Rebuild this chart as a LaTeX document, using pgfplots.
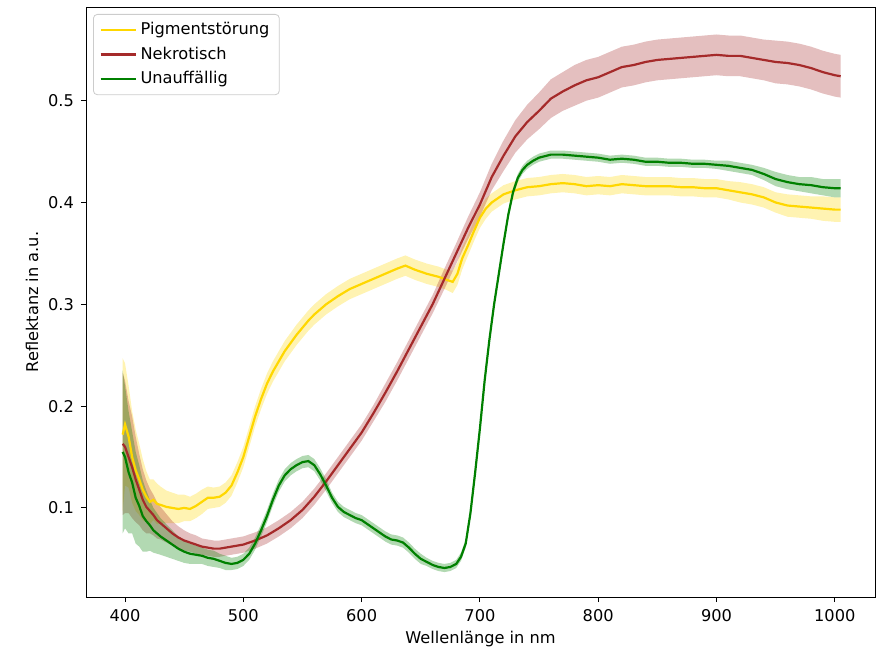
\documentclass[border=0pt]{standalone}
\usepackage{pgfplots}
\pgfplotsset{compat=1.18}
\usepackage{pgfplotstable}
\usepgfplotslibrary{fillbetween}
\usepackage{fontspec}
\setmainfont{DejaVu Sans}
\definecolor{cY}{HTML}{FFD700}
\definecolor{cR}{HTML}{A52A2A}
\definecolor{cG}{HTML}{008000}

\pgfplotstableread{
x m s
398 0.172 0.075
400 0.182 0.06
403 0.170 0.05
406 0.150 0.045
409 0.137 0.04
412 0.128 0.035
415 0.118 0.03
418 0.111 0.025
421 0.106 0.022
424 0.108 0.02
427 0.104 0.02
430 0.103 0.018
435 0.101 0.016
440 0.100 0.015
445 0.099 0.014
450 0.100 0.013
455 0.099 0.012
460 0.102 0.012
465 0.106 0.012
470 0.110 0.011
475 0.110 0.01
480 0.111 0.01
485 0.115 0.01
490 0.122 0.01
495 0.135 0.01
500 0.150 0.01
505 0.170 0.01
510 0.190 0.01
515 0.207 0.01
520 0.222 0.01
525 0.234 0.01
530 0.244 0.01
535 0.254 0.01
540 0.262 0.01
545 0.270 0.01
550 0.277 0.01
555 0.284 0.01
560 0.290 0.01
570 0.300 0.01
580 0.308 0.01
590 0.315 0.01
600 0.320 0.01
610 0.325 0.01
620 0.330 0.01
630 0.335 0.01
637 0.338 0.01
645 0.334 0.01
655 0.330 0.01
665 0.327 0.01
672 0.324 0.01
677 0.322 0.011
681 0.330 0.011
685 0.345 0.011
690 0.358 0.01
695 0.372 0.01
700 0.385 0.01
705 0.394 0.01
710 0.400 0.009
720 0.408 0.009
730 0.412 0.009
740 0.415 0.009
750 0.416 0.009
760 0.418 0.009
770 0.419 0.009
780 0.418 0.009
790 0.416 0.009
800 0.417 0.009
810 0.416 0.009
820 0.418 0.009
830 0.417 0.009
840 0.416 0.009
850 0.416 0.009
860 0.416 0.009
870 0.415 0.009
880 0.415 0.009
890 0.414 0.009
900 0.414 0.009
910 0.412 0.009
920 0.410 0.01
930 0.408 0.01
940 0.405 0.01
950 0.400 0.01
960 0.397 0.011
970 0.396 0.011
980 0.395 0.011
990 0.394 0.012
1000 0.393 0.012
1005 0.393 0.012
}\tY

\pgfplotstableread{
x m s
398 0.163 0.07
400 0.160 0.065
403 0.150 0.055
406 0.140 0.05
409 0.128 0.042
412 0.118 0.035
415 0.108 0.03
418 0.101 0.026
421 0.097 0.022
424 0.093 0.02
427 0.088 0.018
430 0.085 0.016
435 0.080 0.014
440 0.075 0.012
445 0.071 0.011
450 0.068 0.01
455 0.066 0.009
460 0.064 0.009
465 0.062 0.008
470 0.061 0.008
475 0.060 0.008
480 0.060 0.008
485 0.061 0.008
490 0.062 0.008
495 0.063 0.008
500 0.064 0.008
505 0.066 0.008
510 0.068 0.008
520 0.073 0.008
530 0.080 0.008
540 0.088 0.008
550 0.098 0.008
560 0.111 0.008
570 0.126 0.008
580 0.142 0.008
590 0.158 0.008
600 0.174 0.008
610 0.193 0.008
620 0.213 0.009
630 0.234 0.009
640 0.256 0.009
650 0.278 0.009
660 0.300 0.009
670 0.325 0.01
680 0.350 0.01
690 0.375 0.011
700 0.398 0.012
710 0.425 0.013
720 0.446 0.015
730 0.465 0.016
740 0.479 0.017
750 0.490 0.018
760 0.502 0.019
770 0.509 0.019
780 0.515 0.02
790 0.520 0.02
800 0.523 0.02
810 0.528 0.02
820 0.533 0.02
830 0.535 0.02
840 0.538 0.02
850 0.540 0.02
860 0.541 0.02
870 0.542 0.02
880 0.543 0.02
890 0.544 0.02
900 0.545 0.02
910 0.544 0.02
920 0.544 0.02
930 0.542 0.02
940 0.540 0.02
950 0.538 0.021
960 0.537 0.021
970 0.535 0.021
980 0.532 0.021
990 0.528 0.021
1000 0.525 0.021
1005 0.524 0.021
}\tR

\pgfplotstableread{
x m s
398 0.155 0.08
400 0.150 0.07
403 0.135 0.06
406 0.125 0.05
409 0.110 0.045
412 0.102 0.04
415 0.092 0.035
418 0.087 0.03
421 0.083 0.025
424 0.078 0.022
427 0.075 0.02
430 0.072 0.018
435 0.068 0.016
440 0.064 0.014
445 0.060 0.012
450 0.057 0.011
455 0.055 0.01
460 0.054 0.009
465 0.053 0.008
470 0.051 0.008
475 0.050 0.008
480 0.048 0.007
485 0.046 0.007
490 0.045 0.006
495 0.046 0.006
500 0.049 0.006
505 0.055 0.006
510 0.065 0.006
515 0.078 0.006
520 0.092 0.006
525 0.108 0.006
530 0.122 0.006
535 0.132 0.006
540 0.138 0.006
545 0.142 0.006
550 0.145 0.006
555 0.146 0.006
560 0.142 0.006
565 0.133 0.006
570 0.122 0.006
575 0.110 0.005
580 0.101 0.005
585 0.096 0.005
590 0.093 0.005
595 0.090 0.005
600 0.088 0.005
605 0.084 0.005
610 0.080 0.005
615 0.076 0.005
620 0.072 0.005
625 0.069 0.005
630 0.068 0.005
635 0.066 0.005
640 0.061 0.005
645 0.055 0.005
650 0.050 0.005
655 0.047 0.004
660 0.044 0.004
665 0.042 0.004
670 0.041 0.004
675 0.042 0.004
680 0.045 0.004
684 0.052 0.004
688 0.065 0.004
692 0.095 0.004
696 0.135 0.004
700 0.178 0.004
704 0.225 0.004
708 0.265 0.004
712 0.300 0.004
716 0.330 0.004
720 0.360 0.004
724 0.388 0.004
728 0.410 0.004
732 0.424 0.004
736 0.432 0.004
740 0.437 0.004
745 0.441 0.004
750 0.444 0.004
760 0.447 0.004
770 0.447 0.004
780 0.446 0.004
790 0.445 0.004
800 0.444 0.004
810 0.442 0.004
820 0.443 0.004
830 0.442 0.004
840 0.440 0.004
850 0.440 0.004
860 0.439 0.004
870 0.439 0.004
880 0.438 0.004
890 0.438 0.004
900 0.437 0.004
910 0.436 0.005
920 0.434 0.005
930 0.432 0.005
940 0.428 0.006
950 0.423 0.007
960 0.420 0.007
970 0.418 0.007
980 0.417 0.008
990 0.415 0.008
1000 0.414 0.009
1005 0.414 0.009
}\tG

\begin{document}
\begin{tikzpicture}
\begin{axis}[
  name=ax,
  scale only axis,
  width=394.5pt, height=295pt,
  xmin=367, xmax=1034,
  ymin=0.0125, ymax=0.592,
  xtick={400,500,...,1000},
  ytick={0.1,0.2,0.3,0.4,0.5},
  tick pos=left,
  tick align=outside,
  major tick length=2.5pt,
  tick style={line width=0.45pt, black},
  axis line style={line width=0.45pt},
  /pgf/number format/assume math mode=true,
  yticklabel style={/pgf/number format/fixed, /pgf/number format/precision=1},
  xticklabel style={/pgf/number format/set thousands separator={}},
  ticklabel style={font=\fontsize{8.1}{9.7}\selectfont},
  label style={font=\fontsize{8.1}{9.7}\selectfont},
  xlabel={Wellenlänge in nm},
  ylabel={Reflektanz in a.u.},
  xlabel style={yshift=2pt},
  ylabel style={yshift=-2pt},
  legend style={at={(0,1)}, anchor=north west, xshift=3.5pt, yshift=-3.5pt,
    draw=black!20, rounded corners=2pt, fill=white, fill opacity=0.8, text opacity=1,
    font=\fontsize{8.1}{9.7}\selectfont, inner xsep=3pt, inner ysep=2pt,
    row sep=0.6pt, cells={anchor=west}},
  legend image code/.code={\draw[#1] (0pt,0pt) -- (17.5pt,0pt);},
]
% Pigmentstoerung
\addplot[name path=yu, draw=none, forget plot] table[x=x, y expr=\thisrow{m}+\thisrow{s}] {\tY};
\addplot[name path=yl, draw=none, forget plot] table[x=x, y expr=\thisrow{m}-\thisrow{s}] {\tY};
\addplot[fill=cY, fill opacity=0.3, draw=none, forget plot] fill between[of=yu and yl];
\addplot[cY, line width=1.1pt] table[x=x, y=m] {\tY};
\addlegendentry{Pigmentstörung}
% Nekrotisch
\addplot[name path=ru, draw=none, forget plot] table[x=x, y expr=\thisrow{m}+\thisrow{s}] {\tR};
\addplot[name path=rl, draw=none, forget plot] table[x=x, y expr=\thisrow{m}-\thisrow{s}] {\tR};
\addplot[fill=cR, fill opacity=0.3, draw=none, forget plot] fill between[of=ru and rl];
\addplot[cR, line width=1.1pt] table[x=x, y=m] {\tR};
\addlegendentry{Nekrotisch}
% Unauffaellig
\addplot[name path=gu, draw=none, forget plot] table[x=x, y expr=\thisrow{m}+\thisrow{s}] {\tG};
\addplot[name path=gl, draw=none, forget plot] table[x=x, y expr=\thisrow{m}-\thisrow{s}] {\tG};
\addplot[fill=cG, fill opacity=0.3, draw=none, forget plot] fill between[of=gu and gl];
\addplot[cG, line width=1.1pt] table[x=x, y=m] {\tG};
\addlegendentry{Unauffällig}
\end{axis}
\path[use as bounding box] ([xshift=-43pt,yshift=-25.5pt]ax.south west) rectangle ([xshift=0.5pt,yshift=3.5pt]ax.north east);
\end{tikzpicture}
\end{document}
